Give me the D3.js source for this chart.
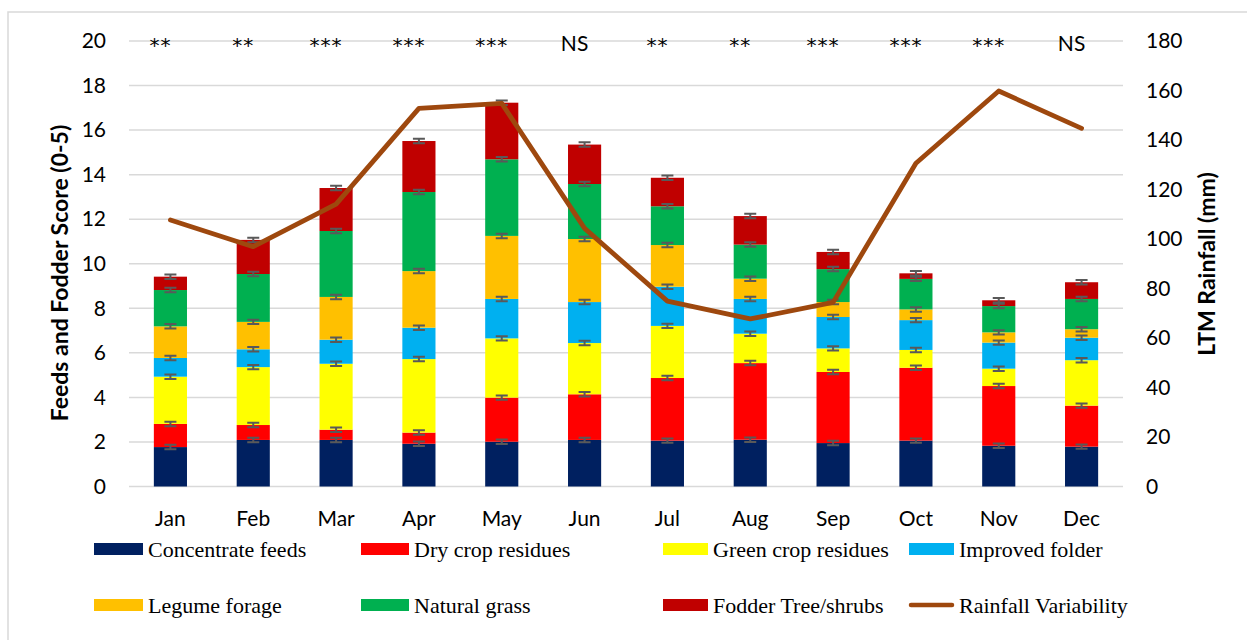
<!DOCTYPE html>
<html>
<head>
<meta charset="utf-8">
<script src="https://cdn.jsdelivr.net/npm/d3@7"></script>
<style>
  body { margin: 0; background: #fff; }
  svg { display: block; }
</style>
</head>
<body>
<div id="chart"></div>
<script>
// Months on the x axis
const months = ['Jan', 'Feb', 'Mar', 'Apr', 'May', 'Jun', 'Jul', 'Aug', 'Sep', 'Oct', 'Nov', 'Dec'];

// Stacked segment values (score)
const concentrateFeeds = [1.77, 2.09, 2.09, 1.92, 2.01, 2.09, 2.06, 2.10, 1.95, 2.06, 1.83, 1.79];
const dryCropResidues = [1.04, 0.67, 0.46, 0.50, 1.98, 2.05, 2.81, 3.44, 3.19, 3.27, 2.68, 1.84];
const greenCropResidues = [2.12, 2.60, 2.96, 3.30, 2.66, 2.30, 2.34, 1.32, 1.06, 0.80, 0.78, 2.04];
const improvedFolder = [0.84, 0.80, 1.08, 1.41, 1.77, 1.84, 1.76, 1.56, 1.41, 1.34, 1.17, 1.01];
const legumeForage = [1.42, 1.23, 1.92, 2.54, 2.83, 2.83, 1.87, 0.91, 0.67, 0.48, 0.46, 0.38];
const naturalGrass = [1.63, 2.15, 2.96, 3.55, 3.44, 2.47, 1.74, 1.53, 1.48, 1.37, 1.18, 1.36];
const fodderTreeShrubs = [0.60, 1.53, 1.93, 2.29, 2.54, 1.77, 1.28, 1.28, 0.77, 0.25, 0.26, 0.75];

// Long-term mean rainfall (mm), right axis
const rainfall = [107.7, 96.9, 114.1, 152.8, 154.8, 104.3, 74.9, 67.7, 74.4, 130.6, 159.8, 144.7];

// Significance labels above each month
const significance = ['**', '**', '***', '***', '***', 'NS', '**', '**', '***', '***', '***', 'NS'];

// Error bar half-height (score units)
const errorHalf = 0.1;

const leftTicks = [0, 2, 4, 6, 8, 10, 12, 14, 16, 18, 20];
const rightTicks = [0, 20, 40, 60, 80, 100, 120, 140, 160, 180];

const seriesNames = ['Concentrate feeds', 'Dry crop residues', 'Green crop residues', 'Improved folder',
  'Legume forage', 'Natural grass', 'Fodder Tree/shrubs'];
const seriesValues = [concentrateFeeds, dryCropResidues, greenCropResidues, improvedFolder,
  legumeForage, naturalGrass, fodderTreeShrubs];
const colors = ['#002060', '#FF0000', '#FFFF00', '#00B0F0', '#FFC000', '#00B050', '#C00000'];
const lineColor = '#9E480E';

const width = 1247;
const height = 640;
const plot = { left: 129, right: 1123, top: 41, bottom: 486.5 };
const tickFont = 'Lato, "Open Sans", sans-serif';
const legendFont = '"Liberation Serif", "Times New Roman", serif';

const svg = d3.select('#chart').append('svg')
  .attr('width', width)
  .attr('height', height);

// Outer chart frame (only top and left edges visible in the crop)
svg.append('path')
  .attr('d', `M8,${height} L8,12 L${width},12`)
  .attr('fill', 'none')
  .attr('stroke', '#D9D9D9')
  .attr('stroke-width', 1.5);

// Scales
const x = d3.scaleBand()
  .domain(months)
  .range([plot.left, plot.right])
  .paddingInner(0.6)
  .paddingOuter(0.3);

const y = d3.scaleLinear().domain([0, 20]).range([plot.bottom, plot.top]);
const yRight = d3.scaleLinear().domain([0, 180]).range([plot.bottom, plot.top]);

// Gridlines
svg.append('g')
  .selectAll('line')
  .data(leftTicks)
  .enter()
  .append('line')
  .attr('x1', plot.left)
  .attr('x2', plot.right)
  .attr('y1', (d) => y(d))
  .attr('y2', (d) => y(d))
  .attr('stroke', '#D9D9D9')
  .attr('stroke-width', 1.5);

// Stack the series
const table = months.map((m, i) => {
  const row = { month: m };
  seriesNames.forEach((name, s) => { row[name] = seriesValues[s][i]; });
  return row;
});
const stacked = d3.stack().keys(seriesNames)(table);

const layers = svg.append('g')
  .selectAll('g')
  .data(stacked)
  .enter()
  .append('g')
  .attr('fill', (d, i) => colors[i]);

layers.selectAll('rect')
  .data((d) => d)
  .enter()
  .append('rect')
  .attr('x', (d) => x(d.data.month))
  .attr('y', (d) => y(d[1]))
  .attr('width', x.bandwidth())
  .attr('height', (d) => y(d[0]) - y(d[1]));

// Error bars at the top of each segment
const errG = svg.append('g')
  .attr('stroke', '#595959')
  .attr('stroke-width', 2)
  .attr('fill', 'none');

stacked.forEach((layer) => {
  layer.forEach((d) => {
    const cx = x(d.data.month) + x.bandwidth() / 2;
    const top = y(d[1] + errorHalf);
    const bot = y(d[1] - errorHalf);
    errG.append('path')
      .attr('d', `M${cx - 6},${top} H${cx + 6} M${cx},${top} V${bot} M${cx - 6},${bot} H${cx + 6}`);
  });
});

// Rainfall line
const line = d3.line()
  .x((d, i) => x(months[i]) + x.bandwidth() / 2)
  .y((d) => yRight(d));

svg.append('path')
  .datum(rainfall)
  .attr('d', line)
  .attr('fill', 'none')
  .attr('stroke', lineColor)
  .attr('stroke-width', 4.8)
  .attr('stroke-linejoin', 'round')
  .attr('stroke-linecap', 'round');

// Axes
const leftAxis = d3.axisLeft(y).tickValues(leftTicks).tickSize(0).tickPadding(23);
const rightAxis = d3.axisRight(yRight).tickValues(rightTicks).tickSize(0).tickPadding(23);
const bottomAxis = d3.axisBottom(x).tickSize(0).tickPadding(25);

const gLeft = svg.append('g').attr('transform', `translate(${plot.left},0)`).call(leftAxis);
const gRight = svg.append('g').attr('transform', `translate(${plot.right},0)`).call(rightAxis);
const gBottom = svg.append('g').attr('transform', `translate(0,${plot.bottom})`).call(bottomAxis);

[gLeft, gRight, gBottom].forEach((g) => {
  g.select('.domain').remove();
  g.selectAll('text')
    .attr('font-family', tickFont)
    .attr('font-size', 21)
    .attr('fill', '#000');
});

// Axis titles
svg.append('text')
  .attr('transform', 'translate(68,273) rotate(-90)')
  .attr('text-anchor', 'middle')
  .attr('font-family', tickFont)
  .attr('font-size', 23)
  .attr('font-weight', 'bold')
  .text('Feeds and Fodder Score (0-5)');

svg.append('text')
  .attr('transform', 'translate(1215,264) rotate(-90)')
  .attr('text-anchor', 'middle')
  .attr('font-family', tickFont)
  .attr('font-size', 23)
  .attr('font-weight', 'bold')
  .text('LTM Rainfall (mm)');

// Significance labels
svg.append('g')
  .selectAll('text')
  .data(significance)
  .enter()
  .append('text')
  .attr('x', (d, i) => x(months[i]) + x.bandwidth() / 2 - 10)
  .attr('y', (d) => (d === 'NS' ? 51 : 52))
  .attr('text-anchor', 'middle')
  .attr('font-family', (d) => (d === 'NS' ? tickFont : '"DejaVu Sans", sans-serif'))
  .attr('font-size', (d) => (d === 'NS' ? 21 : 20))
  .attr('letter-spacing', (d) => (d === 'NS' ? 0 : 1))
  .attr('fill', '#000')
  .text((d) => d);

// Legend
const legendCols = [94, 361, 663, 909];
const swatchWidths = [49, 48, 45, 45];
const legendRows = [543, 599];
const legendItems = seriesNames.map((name, i) => ({ name, color: colors[i], type: 'rect' }))
  .concat([{ name: 'Rainfall Variability', color: lineColor, type: 'line' }]);

const legend = svg.append('g');
legendItems.forEach((item, i) => {
  const col = i % 4;
  const lx = legendCols[col];
  const ly = legendRows[Math.floor(i / 4)];
  const sw = swatchWidths[col];
  if (item.type === 'rect') {
    legend.append('rect')
      .attr('x', lx)
      .attr('y', ly)
      .attr('width', sw)
      .attr('height', 12)
      .attr('fill', item.color);
  } else {
    legend.append('line')
      .attr('x1', lx + 2)
      .attr('x2', lx + sw - 2)
      .attr('y1', ly + 6)
      .attr('y2', ly + 6)
      .attr('stroke', item.color)
      .attr('stroke-width', 4.5)
      .attr('stroke-linecap', 'round');
  }
  legend.append('text')
    .attr('x', lx + sw + 5)
    .attr('y', ly + 14)
    .attr('font-family', legendFont)
    .attr('font-size', 22)
    .attr('fill', '#000')
    .text(item.name);
});
</script>
</body>
</html>
